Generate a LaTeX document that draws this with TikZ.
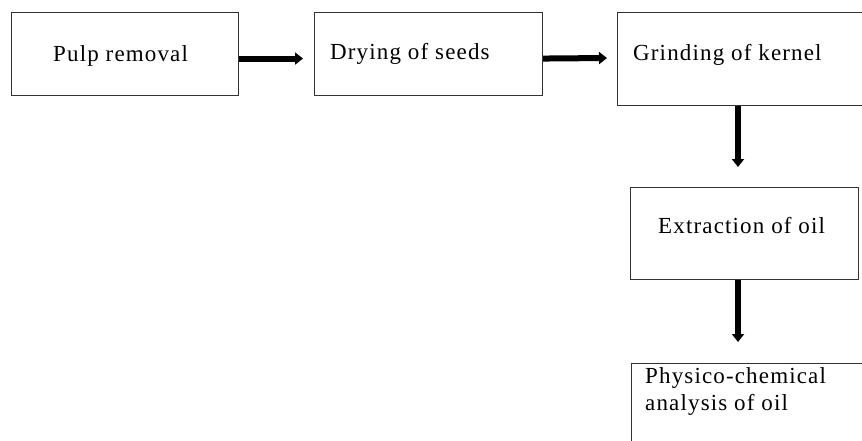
\documentclass[tikz,border=0pt]{standalone}
\usepackage{fontspec}
\setmainfont[LetterSpace=5]{Liberation Serif}
\usetikzlibrary{arrows.meta,calc}
\begin{document}
\begin{tikzpicture}[x=1pt,y=-1pt,
  box/.style={draw=black!80,line width=1.1pt,inner sep=0pt,anchor=north west},
  txt/.style={inner sep=0pt,anchor=base west,font=\fontsize{23}{27}\selectfont,text=black},
  arr/.style={line width=6pt,-{Triangle[length=8pt,width=12pt]}}]
\useasboundingbox (0,0) rectangle (862,440);
\clip (0,0) rectangle (862,440);
\node[box,minimum width=227pt,minimum height=83pt] (b1) at (11,12) {};
\node[box,minimum width=228pt,minimum height=83pt] (b2) at (314,12) {};
\node[box,minimum width=260pt,minimum height=93pt] (b3) at (617,12) {};
\node[box,minimum width=228pt,minimum height=92pt] (b4) at (630,187) {};
\node[box,minimum width=260pt,minimum height=95pt] (b5) at (631,363) {};
\node[txt] (t1) at ($(b1.north west)+(42,49)$) {Pulp removal};
\node[txt] (t2) at ($(b2.north west)+(16,47)$) {Drying of seeds};
\node[txt] (t3) at ($(b3.north west)+(16,48)$) {Grinding of kernel};
\node[txt] (t4) at ($(b4.north west)+(28,46)$) {Extraction of oil};
\node[txt,align=left] (t5) at ($(b5.north west)+(14,47)$) {Physico-chemical\\analysis of oil};
\draw[arr] ($(b1.east)+(0,4.5)$) -- ($(b2.west)+(-11,4.5)$);
\draw[arr] ($(b2.east)+(0,4.5)$) -- ($(b3.north west)+(-10,46)$);
\draw[arr] ($(b3.south west)+(121,0)$) -- ($(b4.north west)+(108,-20)$);
\draw[arr] ($(b4.south west)+(108,0)$) -- ($(b5.north west)+(107,-21)$);
\end{tikzpicture}
\end{document}
